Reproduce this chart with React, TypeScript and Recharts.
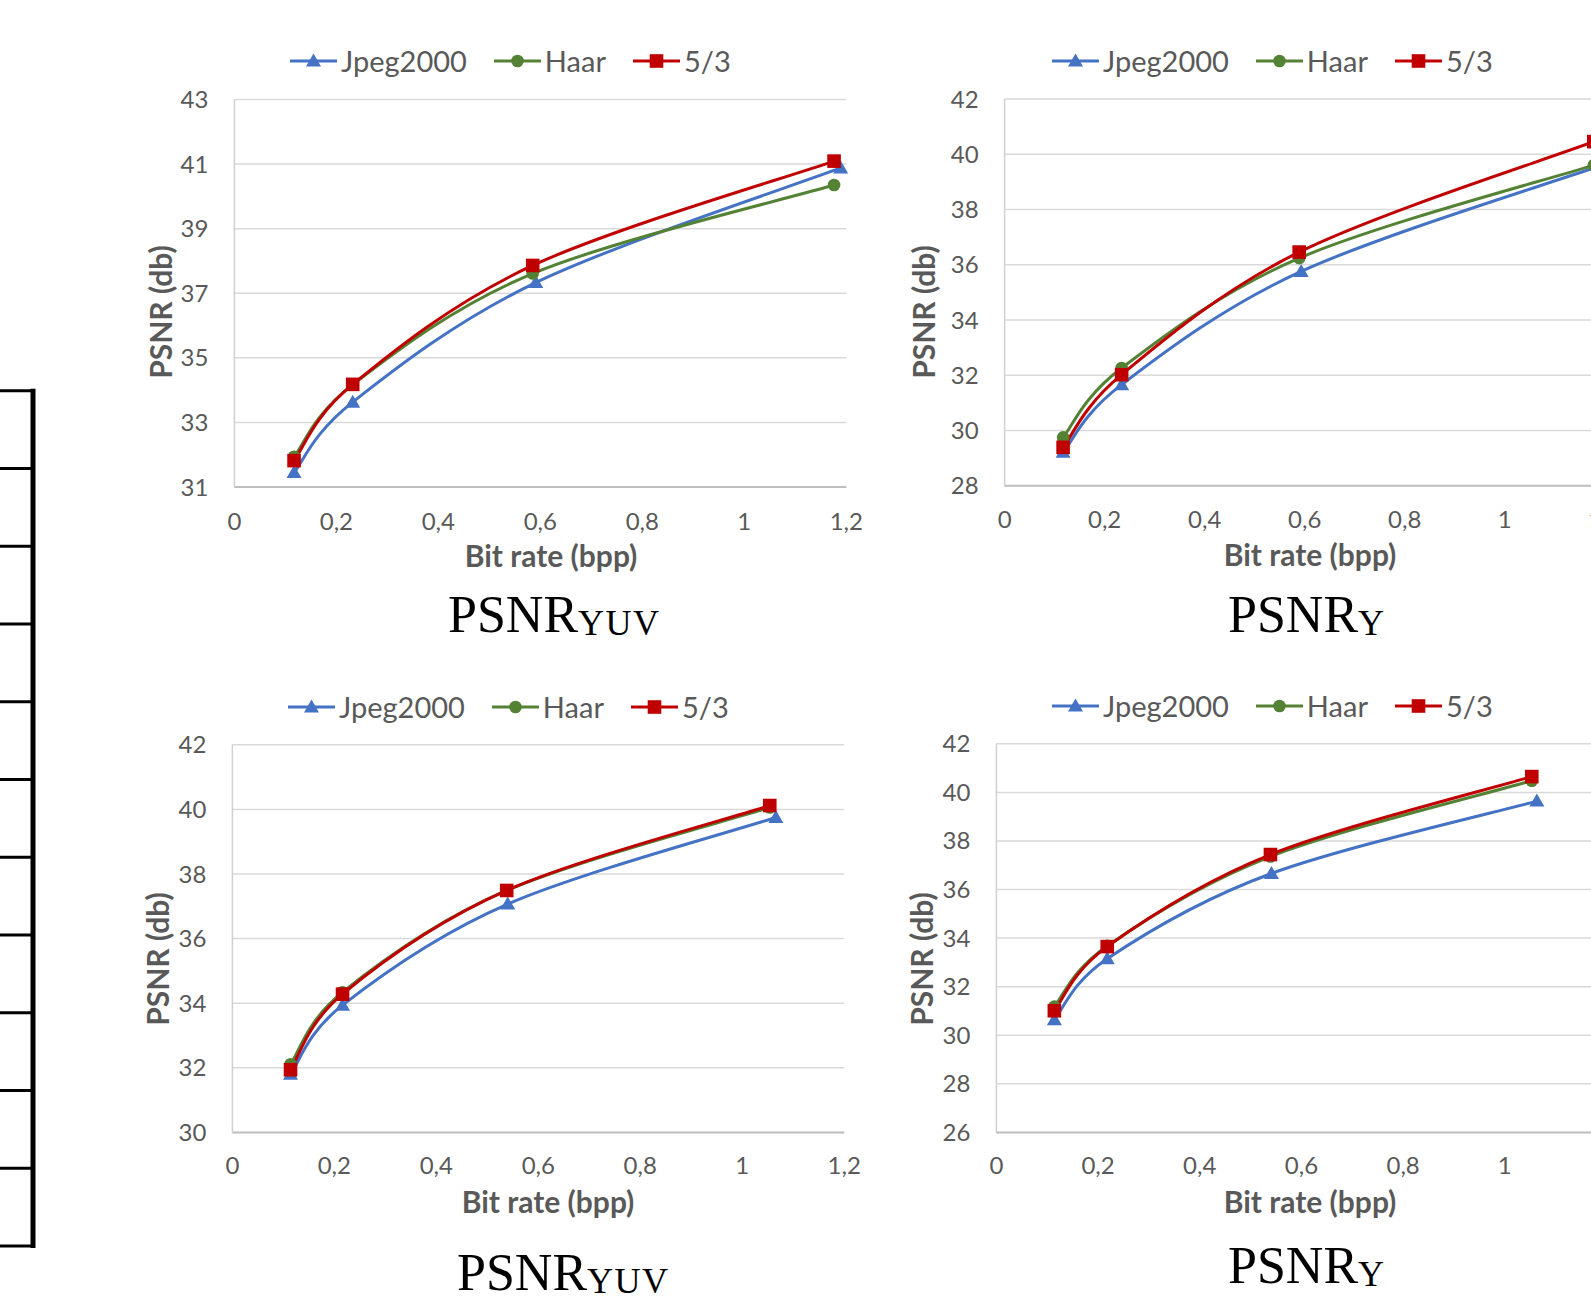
import React from 'react';
import { LineChart, Line, XAxis, YAxis, CartesianGrid, Legend, Label } from 'recharts';

// ---------- data ----------
const seriesNames = ['Jpeg2000', 'Haar', '5/3'];
const xTicks = [0, 0.2, 0.4, 0.6, 0.8, 1, 1.2];

// Top-left: PSNR_YUV
const tlJpegX = [0.117, 0.232, 0.591, 1.189];
const tlJpegY = [31.45, 33.63, 37.33, 40.88];
const tlHaarX = [0.117, 0.232, 0.585, 1.176];
const tlHaarY = [31.94, 34.17, 37.61, 40.35];
const tl53X = [0.117, 0.232, 0.585, 1.176];
const tl53Y = [31.82, 34.18, 37.86, 41.09];
const tlYTicks = [31, 33, 35, 37, 39, 41, 43];

// Top-right: PSNR_Y
const trJpegX = [0.117, 0.234, 0.593, 1.19];
const trJpegY = [29.21, 31.66, 35.76, 39.58];
const trHaarX = [0.117, 0.234, 0.589, 1.178];
const trHaarY = [29.75, 32.26, 36.24, 39.61];
const tr53X = [0.117, 0.234, 0.589, 1.178];
const tr53Y = [29.39, 32.02, 36.46, 40.46];
const trYTicks = [28, 30, 32, 34, 36, 38, 40, 42];

// Bottom-left: PSNR_YUV
const blJpegX = [0.114, 0.216, 0.54, 1.066];
const blJpegY = [31.8, 33.94, 37.07, 39.75];
const blHaarX = [0.114, 0.216, 0.538, 1.054];
const blHaarY = [32.11, 34.34, 37.49, 40.06];
const bl53X = [0.114, 0.216, 0.538, 1.054];
const bl53Y = [31.94, 34.28, 37.49, 40.12];
const blYTicks = [30, 32, 34, 36, 38, 40, 42];

// Bottom-right: PSNR_Y
const brJpegX = [0.114, 0.218, 0.541, 1.063];
const brJpegY = [30.64, 33.15, 36.66, 39.64];
const brHaarX = [0.114, 0.218, 0.539, 1.053];
const brHaarY = [31.18, 33.68, 37.36, 40.48];
const br53X = [0.114, 0.218, 0.539, 1.053];
const br53Y = [31.01, 33.65, 37.44, 40.65];
const brYTicks = [26, 28, 30, 32, 34, 36, 38, 40, 42];

// ---------- styling ----------
const FONT = 'Lato, "Open Sans", sans-serif';
const SERIF = '"Liberation Serif", "DejaVu Serif", serif';
const GRAY = '#595959';
const COLORS = ['#4472C4', '#548235', '#C00000'];
const KINDS = ['tri', 'circle', 'square'];

type Pt = { x: number; y: number };
const zip = (xs: number[], ys: number[]): Pt[] => xs.map((x, i) => ({ x, y: ys[i] }));
const fmt = (v: number) => String(v).replace('.', ',');

// Excel-like smoothed line (Catmull-Rom through the points), as a d3-style curve factory
const smoothCurve: any = (context: any) => {
  let pts: [number, number][] = [];
  return {
    areaStart() {},
    areaEnd() {},
    lineStart() {
      pts = [];
    },
    point(x: number, y: number) {
      pts.push([+x, +y]);
    },
    lineEnd() {
      const n = pts.length;
      if (!n) return;
      context.moveTo(pts[0][0], pts[0][1]);
      for (let i = 0; i < n - 1; i++) {
        const p0 = pts[i === 0 ? 0 : i - 1];
        const p1 = pts[i];
        const p2 = pts[i + 1];
        const p3 = pts[i + 2 < n ? i + 2 : n - 1];
        const c1x = p1[0] + (p2[0] - p0[0]) / 6;
        const c1y = p1[1] + (p2[1] - p0[1]) / 6;
        const c2x = p2[0] - (p3[0] - p1[0]) / 6;
        const c2y = p2[1] - (p3[1] - p1[1]) / 6;
        context.bezierCurveTo(c1x, c1y, c2x, c2y, p2[0], p2[1]);
      }
    },
  };
};

function Marker({ cx, cy, kind, color }: { cx: number; cy: number; kind: string; color: string }) {
  if (cx == null || cy == null) return null;
  if (kind === 'tri')
    return <polygon points={`${cx},${cy - 7.5} ${cx + 7.5},${cy + 5.5} ${cx - 7.5},${cy + 5.5}`} fill={color} />;
  if (kind === 'circle') return <circle cx={cx} cy={cy} r={6.3} fill={color} />;
  return <rect x={cx - 6.8} y={cy - 6.8} width={13.6} height={13.6} fill={color} />;
}

function LegendBox() {
  return (
    <div style={{ display: 'flex', alignItems: 'center', fontFamily: FONT, fontSize: 29, color: GRAY, whiteSpace: 'nowrap', lineHeight: '40px' }}>
      {seriesNames.map((n, i) => (
        <div key={n} style={{ display: 'flex', alignItems: 'center', marginLeft: i ? 27 : 0 }}>
          <svg width={47} height={20} style={{ display: 'block' }}>
            <line x1={0} y1={10} x2={47} y2={10} stroke={COLORS[i]} strokeWidth={3} />
            <Marker cx={23.5} cy={10} kind={KINDS[i]} color={COLORS[i]} />
          </svg>
          <span style={{ marginLeft: 4 }}>{n}</span>
        </div>
      ))}
    </div>
  );
}

type Cfg = {
  id: string;
  series: Pt[][];
  yDomain: [number, number];
  yTicks: number[];
  plotLeft: number;
  plotRight: number;
  plotTop: number;
  plotBottom: number;
  legend: [number, number];
  yTitle: [number, number];
  xTitle: [number, number];
  xTickMargin: number;
};

const panels: Cfg[] = [
  {
    id: 'tl',
    series: [zip(tlJpegX, tlJpegY), zip(tlHaarX, tlHaarY), zip(tl53X, tl53Y)],
    yDomain: [31, 43], yTicks: tlYTicks,
    plotLeft: 234.4, plotRight: 846.3, plotTop: 99.4, plotBottom: 487.1,
    legend: [290, 61], yTitle: [160, 312], xTitle: [551, 555], xTickMargin: 26,
  },
  {
    id: 'tr',
    series: [zip(trJpegX, trJpegY), zip(trHaarX, trHaarY), zip(tr53X, tr53Y)],
    yDomain: [28, 42], yTicks: trYTicks,
    plotLeft: 1004.6, plotRight: 1604.8, plotTop: 99.1, plotBottom: 485.7,
    legend: [1052, 61], yTitle: [923, 312], xTitle: [1310, 554], xTickMargin: 25.5,
  },
  {
    id: 'bl',
    series: [zip(blJpegX, blJpegY), zip(blHaarX, blHaarY), zip(bl53X, bl53Y)],
    yDomain: [30, 42], yTicks: blYTicks,
    plotLeft: 232.4, plotRight: 844.2, plotTop: 744.8, plotBottom: 1132.4,
    legend: [288, 707], yTitle: [157, 959], xTitle: [548, 1201], xTickMargin: 25,
  },
  {
    id: 'br',
    series: [zip(brJpegX, brJpegY), zip(brHaarX, brHaarY), zip(br53X, br53Y)],
    yDomain: [26, 42], yTicks: brYTicks,
    plotLeft: 996.4, plotRight: 1606.5, plotTop: 743.8, plotBottom: 1132.4,
    legend: [1052, 706], yTitle: [921, 959], xTitle: [1310, 1201], xTickMargin: 25,
  },
];

const W = 1700;
const H = 1303;
const Y_AXIS_W = 80;
const X_AXIS_H = 60;

function Panel({ cfg }: { cfg: Cfg }) {
  return (
    <div style={{ position: 'absolute', left: 0, top: 0 }}>
      <LineChart
        width={W}
        height={H}
        margin={{
          top: cfg.plotTop,
          left: cfg.plotLeft - Y_AXIS_W,
          right: W - cfg.plotRight,
          bottom: H - cfg.plotBottom - X_AXIS_H,
        }}
      >
        <CartesianGrid vertical={false} stroke="#D9D9D9" strokeWidth={1.5} />
        <XAxis
          type="number"
          dataKey="x"
          domain={[0, 1.2]}
          ticks={xTicks}
          interval={0}
          tickFormatter={fmt}
          axisLine={{ stroke: '#BFBFBF', strokeWidth: 2 }}
          tickLine={false}
          tickSize={0}
          tickMargin={cfg.xTickMargin}
          height={X_AXIS_H}
          tick={{ fill: GRAY, fontSize: 24, fontFamily: FONT }}
        >
          <Label
            content={() => (
              <text x={cfg.xTitle[0]} y={cfg.xTitle[1]} textAnchor="middle" dominantBaseline="central" fill={GRAY} fontFamily={FONT} fontWeight="bold" fontSize={30}>
                Bit rate (bpp)
              </text>
            )}
          />
        </XAxis>
        <YAxis
          type="number"
          domain={cfg.yDomain}
          ticks={cfg.yTicks}
          interval={0}
          width={Y_AXIS_W}
          axisLine={{ stroke: '#D0D0D0', strokeWidth: 1.5 }}
          tickLine={false}
          tickSize={0}
          tickMargin={26}
          tick={{ fill: GRAY, fontSize: 24, fontFamily: FONT }}
        >
          <Label
            content={() => (
              <text
                x={cfg.yTitle[0]}
                y={cfg.yTitle[1]}
                textAnchor="middle"
                dominantBaseline="central"
                transform={`rotate(-90 ${cfg.yTitle[0]} ${cfg.yTitle[1]})`}
                fill={GRAY}
                fontFamily={FONT}
                fontWeight="bold"
                fontSize={30}
              >
                PSNR (db)
              </text>
            )}
          />
        </YAxis>
        <Legend
          layout="horizontal"
          verticalAlign="middle"
          align="center"
          wrapperStyle={{ left: cfg.legend[0], top: cfg.legend[1] - 20, width: 'auto', height: 40 }}
          content={() => <LegendBox />}
        />
        {cfg.series.map((data, i) => (
          <Line
            key={seriesNames[i]}
            data={data}
            dataKey="y"
            name={seriesNames[i]}
            type={smoothCurve}
            stroke={COLORS[i]}
            strokeWidth={3}
            isAnimationActive={false}
            dot={(p: any) => (
              <Marker key={`${cfg.id}-${i}-${p.index}`} cx={p.cx} cy={p.cy} kind={KINDS[i]} color={COLORS[i]} />
            )}
            activeDot={false}
          />
        ))}
      </LineChart>
    </div>
  );
}

function Caption({ x, y, sub }: { x: number; y: number; sub: string }) {
  return (
    <text x={x} y={y} fontFamily={SERIF} fontSize={52} fill="#000">
      PSNR
      <tspan fontSize={36} dy={3} letterSpacing={1.5}>
        {sub}
      </tspan>
    </text>
  );
}

const ruleYs = [390.7, 468.5, 546.2, 624, 701.7, 779.5, 857.2, 935, 1012.7, 1090.5, 1168.2, 1246];

export default function App() {
  return (
    <div style={{ position: 'absolute', left: 0, top: 0, width: 1591, height: 1303, overflow: 'hidden', background: '#fff' }}>
      {panels.map((c) => (
        <Panel key={c.id} cfg={c} />
      ))}
      <svg width={1591} height={1303} style={{ position: 'absolute', left: 0, top: 0, pointerEvents: 'none' }}>
        <line x1={33} y1={ruleYs[0] - 2} x2={33} y2={ruleYs[ruleYs.length - 1] + 2} stroke="#000" strokeWidth={5} />
        {ruleYs.map((y) => (
          <line key={y} x1={0} y1={y} x2={35} y2={y} stroke="#000" strokeWidth={3} />
        ))}
        <Caption x={448} y={632} sub="YUV" />
        <Caption x={1228} y={632} sub="Y" />
        <Caption x={457} y={1290} sub="YUV" />
        <Caption x={1228} y={1283} sub="Y" />
      </svg>
    </div>
  );
}
